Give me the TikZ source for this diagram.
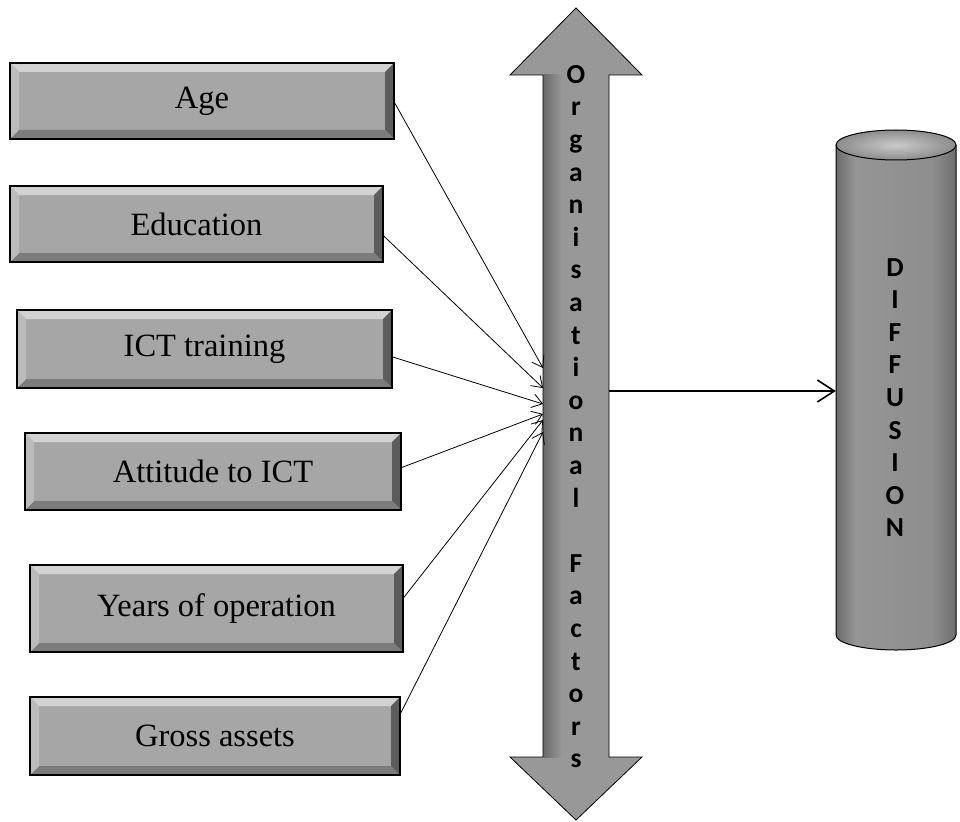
\documentclass[tikz,border=0pt]{standalone}
\usepackage{fontspec}
\setmainfont{Liberation Serif}
\newfontfamily\calib{Carlito}
\usetikzlibrary{arrows.meta,calc}
\definecolor{boxgray}{HTML}{A6A6A6}
\definecolor{bevtopc}{HTML}{D2D2D2}
\definecolor{bevrightc}{HTML}{5C5C5C}
\definecolor{bevbotc}{HTML}{7C7C7C}
\definecolor{bevleftc}{HTML}{BBBBBB}
\definecolor{arrgray}{HTML}{989898}
\definecolor{arrdark}{HTML}{6A6A6A}
\definecolor{cA}{HTML}{6C6C6C}
\definecolor{cB}{HTML}{959595}
\definecolor{cC}{HTML}{8E8E8E}
\definecolor{cD}{HTML}{6E6E6E}
\definecolor{toplight}{HTML}{CACACA}
\definecolor{topdark}{HTML}{8C8C8C}
\pgfdeclarehorizontalshading{cylshade}{100bp}{color(0bp)=(cA); color(25bp)=(cA); color(33bp)=(cB); color(65bp)=(cC); color(75bp)=(cD); color(100bp)=(cD)}
\begin{document}
\begin{tikzpicture}[x=1pt,y=-1pt,
  factorbox/.style={draw=black, line width=1.5pt, fill=boxgray, inner sep=0pt,
    font=\fontsize{32.5}{38}\selectfont,
    path picture={
      \path (path picture bounding box.north west) coordinate (pNW)
            (path picture bounding box.south east) coordinate (pSE);
      \fill[bevtopc] (pNW) -- (pNW -| pSE) -- ($(pNW -| pSE)+(-9pt,-9pt)$) -- ($(pNW)+(9pt,-9pt)$) -- cycle;
      \fill[bevrightc] (pNW -| pSE) -- (pSE) -- ($(pSE)+(-9pt,9pt)$) -- ($(pNW -| pSE)+(-9pt,-9pt)$) -- cycle;
      \fill[bevbotc] (pSE) -- (pSE -| pNW) -- ($(pSE -| pNW)+(9pt,9pt)$) -- ($(pSE)+(-9pt,9pt)$) -- cycle;
      \fill[bevleftc] (pSE -| pNW) -- (pNW) -- ($(pNW)+(9pt,-9pt)$) -- ($(pSE -| pNW)+(9pt,9pt)$) -- cycle;
    }},
  feeder/.style={line width=0.8pt, -{Straight Barb[length=10pt,width=14pt,line width=0.8pt]}},
  mainarrow/.style={line width=1.6pt, -{Straight Barb[length=17pt,width=22pt,line width=1.6pt]}},
  vletters/.style={font=\calib\bfseries\fontsize{27.5}{32.6}\selectfont, align=center, inner sep=0pt, anchor=north},
  hidden/.style={inner sep=0pt, draw=none}
]
\useasboundingbox (0,0) rectangle (960,821);

% ---- factor boxes ----
\node[factorbox, minimum width=384pt, minimum height=76pt] (age)   at (202,101)   {Age};
\node[factorbox, minimum width=373pt, minimum height=76pt] (edu)   at (196.5,224) {Education};
\node[factorbox, minimum width=375pt, minimum height=78pt] (ict)   at (204.5,349) {ICT training};
\node[factorbox, minimum width=376pt, minimum height=77pt] (att)   at (213,471.5) {Attitude to ICT};
\node[factorbox, minimum width=373pt, minimum height=87pt] (yrs)   at (216.5,608.5) {Years of operation};
\node[factorbox, minimum width=370pt, minimum height=78pt] (gross) at (215,736)   {Gross assets};

% ---- double arrow ----
\fill[arrgray] (576,8) -- (642,75) -- (609,75) -- (609,757) -- (642,757) -- (576,820)
  -- (510,757) -- (543,757) -- (543,75) -- (510,75) -- cycle;
\shade[left color=arrdark, right color=arrgray] (543.5,75) rectangle (562,757);
\draw[line width=0.8pt] (576,8) -- (642,75) -- (609,75) -- (609,757) -- (642,757) -- (576,820)
  -- (510,757) -- (543,757) -- (543,75) -- (510,75) -- cycle;
\node[hidden, minimum width=66pt, minimum height=682pt] (shaft) at (576,416) {};
\node[vletters] (orgtext) at (576,65) {O\\r\\g\\a\\n\\i\\s\\a\\t\\i\\o\\n\\a\\l\\[32.6pt]F\\a\\c\\t\\o\\r\\s};

% ---- cylinder ----
\shade[shading=cylshade] (836,145) -- (836,635) arc[start angle=180, end angle=360, x radius=60pt, y radius=15pt]
  -- (956,145) arc[start angle=0, end angle=180, x radius=60pt, y radius=15pt] -- cycle;
\draw[line width=1pt] (836,145) -- (836,635) arc[start angle=180, end angle=360, x radius=60pt, y radius=15pt]
  -- (956,145);
\shade[inner color=toplight, outer color=topdark, draw=black, line width=1pt] (896,145) ellipse [x radius=60pt, y radius=15pt];
\node[hidden, minimum width=120pt, minimum height=490pt] (diff) at (896,390) {};
\node[vletters] (difftext) at (895,258) {D\\I\\F\\F\\U\\S\\I\\O\\N};

% ---- connector end points on the shaft ----
\coordinate (e1) at (543,368);
\coordinate (e2) at (543,388);
\coordinate (e3) at (543,404);
\coordinate (e4) at (543,414);
\coordinate (e5) at (543,420);
\coordinate (e6) at (543,432);
\coordinate (oa) at (609,391);

\draw[feeder] ([yshift=-2pt]age.east) -- (e1);
\draw[feeder] ([yshift=-12pt]edu.east) -- (e2);
\draw[feeder] ([yshift=-8pt]ict.east) -- (e3);
\draw[feeder] ([yshift=4pt]att.east) -- (e4);
\draw[feeder] ([yshift=11pt]yrs.east) -- (e5);
\draw[feeder] ([yshift=23pt]gross.east) -- (e6);

\draw[mainarrow] (oa) -- (oa -| diff.west);
\end{tikzpicture}
\end{document}
